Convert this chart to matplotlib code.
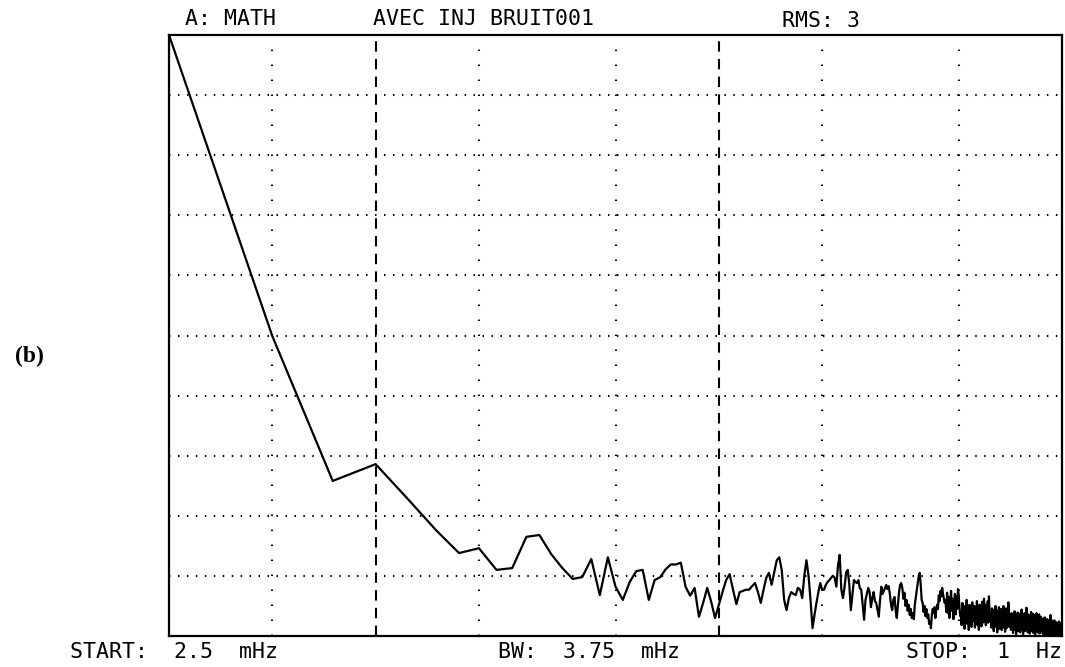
"""Spectre du signal avec injection de bruit : trace type analyseur FFT."""
import numpy as np
import matplotlib
matplotlib.use("Agg")
import matplotlib.pyplot as plt

# bins FFT : START 2.5 mHz, pas 2.5 mHz, STOP 1 Hz (400 raies)
f_start = 0.0025
f_step = 0.0025
f_stop = 1.0

# amplitude en divisions d'ecran (0 = bas, 10 = haut), raie par raie
amp_low = [
    10.0, 4.99, 2.58, 2.86, 2.26, 1.76, 1.38, 1.46, 1.10, 1.13,
    1.65, 1.68, 1.36, 1.13, 0.95, 0.98, 1.28, 0.68, 1.31, 0.82,
    0.60, 0.90, 1.08, 1.10, 0.60, 0.93, 0.98, 1.11, 1.19, 1.19,
    1.22, 0.82, 0.67, 0.80, 0.32, 0.55, 0.80, 0.57, 0.30, 0.52,
    0.73, 0.93, 1.03, 0.77, 0.53, 0.73, 0.75, 0.77, 0.77, 0.83,
    0.88, 0.73, 0.55, 0.77, 0.97, 1.05, 0.85, 1.06, 1.26, 1.31,
    1.10, 0.60, 0.43, 0.63, 0.73, 0.70, 0.68, 0.80, 0.77, 0.63,
    1.01, 1.26, 1.01, 0.60, 0.13, 0.35, 0.55, 0.73, 0.88, 0.77,
    0.77, 0.85, 0.90, 0.93, 0.97, 1.00, 0.97, 0.82, 1.18, 1.35,
    0.77, 0.63,
]
amp_mid = [
    0.82, 1.06, 1.10, 0.85, 0.43, 0.68, 0.93, 0.90,
    0.88, 0.93, 0.80, 0.77, 0.52, 0.27, 0.60, 0.70, 0.80, 0.73,
    0.48, 0.63, 0.73, 0.58, 0.55, 0.43, 0.32, 0.60, 0.82, 0.70,
    0.75, 0.80, 0.85, 0.78, 0.83, 0.70, 0.52, 0.43, 0.60, 0.65,
    0.43, 0.30, 0.52, 0.73, 0.85, 0.88, 0.80, 0.62, 0.72, 0.50,
    0.60, 0.42, 0.52, 0.35, 0.45, 0.30, 0.38, 0.28, 0.52, 0.65,
    0.77, 0.88, 1.00, 1.05, 0.85, 0.60, 0.55, 0.40, 0.50, 0.33,
    0.45, 0.30, 0.36, 0.20, 0.25, 0.13, 0.35, 0.45, 0.38, 0.48,
    0.30, 0.42, 0.52, 0.45, 0.68, 0.58, 0.75, 0.66, 0.80, 0.70,
    0.62, 0.55,
]
amp_high = [
    0.60, 0.40, 0.72, 0.38, 0.65, 0.30, 0.55, 0.75, 0.42, 0.62,
    0.28, 0.50, 0.70, 0.36, 0.66, 0.45, 0.78, 0.68, 0.48, 0.33,
    0.40, 0.18, 0.55, 0.22, 0.45, 0.12, 0.50, 0.28, 0.60, 0.20,
    0.42, 0.10, 0.52, 0.25, 0.46, 0.15, 0.56, 0.24, 0.40, 0.50,
    0.14, 0.46, 0.22, 0.58, 0.18, 0.44, 0.10, 0.52, 0.26, 0.48,
    0.16, 0.57, 0.22, 0.44, 0.62, 0.24, 0.52, 0.18, 0.47, 0.28,
    0.58, 0.22, 0.66, 0.38, 0.25,
    0.36, 0.14, 0.46, 0.18, 0.40, 0.08, 0.44, 0.20, 0.50, 0.15,
    0.38, 0.06, 0.42, 0.20, 0.48, 0.12, 0.40, 0.17, 0.45, 0.10,
    0.37, 0.18, 0.50, 0.14, 0.42, 0.07, 0.36, 0.46, 0.13, 0.40,
    0.20, 0.56, 0.38, 0.15, 0.32,
    0.28, 0.10, 0.38, 0.13, 0.33, 0.05, 0.36, 0.14, 0.41, 0.10,
    0.31, 0.03, 0.34, 0.15, 0.39, 0.08, 0.30, 0.12, 0.37, 0.06,
    0.33, 0.14, 0.44, 0.10, 0.29, 0.02, 0.32, 0.13, 0.38, 0.08,
    0.35, 0.15, 0.47, 0.11, 0.30, 0.06, 0.36, 0.12, 0.33, 0.04,
    0.29, 0.11, 0.40, 0.08, 0.32, 0.14, 0.37, 0.05, 0.28, 0.12,
    0.35, 0.02, 0.31, 0.09, 0.38, 0.12, 0.33, 0.06, 0.29, 0.10,
    0.36, 0.04, 0.27, 0.08, 0.32,
    0.21, 0.06, 0.29, 0.08, 0.25, 0.02, 0.24, 0.07, 0.31, 0.04,
    0.22, 0.01, 0.27, 0.09, 0.28, 0.03, 0.21, 0.06, 0.26, 0.02,
    0.23, 0.07, 0.35, 0.09, 0.27, 0.03, 0.24, 0.05, 0.22, 0.01,
    0.20, 0.04, 0.26, 0.02, 0.21, 0.06, 0.23, 0.01, 0.19, 0.04,
    0.22, 0.02, 0.20, 0.05, 0.24, 0.01, 0.18, 0.03, 0.21, 0.01,
    0.17, 0.03, 0.19, 0.02, 0.15,
]

# quadrillage : 10 divisions verticales, decades en tirets
grid_h = [1, 2, 3, 4, 5, 6, 7, 8, 9]
grid_dot = [0.005, 0.02, 0.05, 0.2, 0.5]
grid_dash = [0.01, 0.1]


def main():
    amp = np.array(amp_low + amp_mid + amp_high)
    freqs = f_start + f_step * np.arange(len(amp))

    fig = plt.figure(figsize=(10.65, 6.67), dpi=100)
    ax = fig.add_axes([0.1587, 0.0465, 0.8385, 0.9010])

    for y in grid_h:
        ax.axhline(y, color="black", lw=1.5, ls=(0, (0.7, 3.6)), zorder=1)
    for x in grid_dot:
        ax.axvline(x, color="black", lw=1.5, ls=(0, (0.7, 6.5)), zorder=1)
    for x in grid_dash:
        ax.axvline(x, color="black", lw=1.5, ls=(0, (5, 3.5)), zorder=1)

    ax.plot(freqs, amp, color="black", lw=1.6, zorder=3)

    ax.set_xscale("log")
    ax.set_xlim(f_start, f_stop)
    ax.set_ylim(0, 10)
    ax.set_xticks([])
    ax.set_yticks([])
    ax.minorticks_off()
    for s in ax.spines.values():
        s.set_linewidth(1.6)

    mono = dict(family="DejaVu Sans Mono", fontsize=15.5, color="black")
    fig.text(185 / 1065, 1 - 19 / 667, "A: MATH", va="center", ha="left", **mono)
    fig.text(373 / 1065, 1 - 19 / 667, "AVEC INJ BRUIT001", va="center", ha="left", **mono)
    fig.text(782 / 1065, 1 - 21 / 667, "RMS: 3", va="center", ha="left", **mono)
    fig.text(70 / 1065, 1 - 652 / 667, "START:  2.5  mHz", va="center", ha="left", **mono)
    fig.text(498 / 1065, 1 - 652 / 667, "BW:  3.75  mHz", va="center", ha="left", **mono)
    fig.text(1062 / 1065, 1 - 652 / 667, "STOP:  1  Hz", va="center", ha="right", **mono)
    fig.text(15 / 1065, 1 - 356 / 667, "(b)", va="center", ha="left",
             family="Liberation Serif", fontsize=17, fontweight="bold")

    fig.savefig("out.png", dpi=100)


if __name__ == "__main__":
    main()
